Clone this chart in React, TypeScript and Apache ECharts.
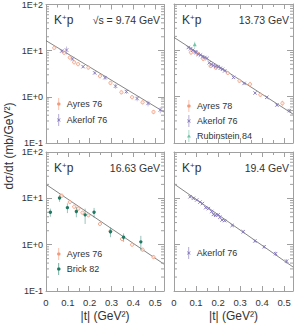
import React, { useEffect, useRef } from "react";
import * as echarts from "echarts";

const FONT = "'Liberation Sans', Arial, Helvetica, sans-serif";
const T_MAX = 0.54;
const xTickValues = [0, 0.1, 0.2, 0.3, 0.4, 0.5];
const xTickLabels = ["0", "0.1", "0.2", "0.3", "0.4", "0.5"];
const yDecadeValues = [0.1, 1, 10, 100];
const yTickLabels = ["1E-1", "1E+0", "1E+1", "1E+2"];
const yMinorValues = [0.2, 0.3, 0.4, 0.5, 0.6, 0.7, 0.8, 0.9, 2, 3, 4, 5, 6, 7, 8, 9, 20, 30, 40, 50, 60, 70, 80, 90];

const panelReaction = ["K", "K", "K", "K"];
const panelEnergies = ["√s = 9.74 GeV", "13.73 GeV", "16.63 GeV", "19.4 GeV"];
const xTitle = "|t| (GeV²)";
const yTitle = "dσ/dt (mb/GeV²)";

// Panel A: 9.74 GeV
const ayresA_t = [0.038, 0.083, 0.109, 0.129, 0.147, 0.194, 0.247, 0.295, 0.345, 0.394, 0.442, 0.492];
const ayresA_v = [11.5, 9.0, 7.1, 5.6, 5.1, 4.3, 2.8, 2.0, 1.25, 0.98, 0.76, 0.47];
const ayresA_e = [0.8, 0.6, 0.5, 0.4, 0.35, 0.3, 0.2, 0.15, 0.1, 0.08, 0.07, 0.05];
const akerlofA_t = [0.072, 0.094, 0.121, 0.17, 0.223, 0.27, 0.318, 0.368, 0.417, 0.467, 0.523];
const akerlofA_v = [9.8, 10.3, 6.6, 4.5, 3.3, 2.6, 1.7, 1.3, 0.92, 0.72, 0.52];
const akerlofA_e = [0.7, 2.0, 0.5, 0.3, 0.25, 0.3, 0.2, 0.15, 0.12, 0.1, 0.08];
const fitA_t = [0, 0.54];
const fitA_v = [16.5, 0.47];

// Panel B: 13.73 GeV
const ayresB_t = [0.077, 0.105, 0.133, 0.166, 0.19, 0.244, 0.297, 0.345, 0.392, 0.492];
const ayresB_v = [9.0, 8.6, 6.5, 4.6, 4.2, 3.25, 2.2, 1.85, 1.1, 0.72];
const ayresB_e = [1.0, 0.8, 0.5, 0.4, 0.3, 0.25, 0.2, 0.25, 0.1, 0.1];
const akerlofB_t = [0.065, 0.075, 0.085, 0.095, 0.1, 0.11, 0.12, 0.13, 0.14, 0.15, 0.16, 0.17, 0.18, 0.19, 0.2, 0.21, 0.22, 0.23, 0.27, 0.318, 0.368, 0.421, 0.467, 0.523];
const akerlofB_v = [11.5, 10.8, 10.0, 9.3, 9.0, 8.2, 7.9, 7.3, 7.0, 6.7, 5.4, 5.0, 4.7, 4.5, 4.4, 4.1, 3.9, 3.6, 2.6, 1.93, 1.2, 0.97, 0.66, 0.5];
const akerlofB_e = [0.5, 0.45, 0.4, 0.4, 0.35, 0.35, 0.3, 0.3, 0.3, 0.3, 0.25, 0.25, 0.2, 0.2, 0.2, 0.2, 0.2, 0.15, 0.12, 0.1, 0.07, 0.06, 0.05, 0.05];
const rubinB_t = [0.094];
const rubinB_v = [13.2];
const rubinB_e = [2.2];
const fitB_t = [0, 0.54];
const fitB_v = [19, 0.42];

// Panel C: 16.63 GeV
const ayresC_t = [0.072, 0.109, 0.129, 0.148, 0.167, 0.194, 0.247, 0.295, 0.348, 0.394, 0.442, 0.492];
const ayresC_v = [11.4, 8.3, 6.6, 6.0, 4.9, 4.3, 2.8, 1.95, 1.32, 1.0, 0.78, 0.54];
const ayresC_e = [0.7, 0.5, 0.4, 0.4, 0.3, 0.3, 0.2, 0.12, 0.1, 0.07, 0.06, 0.05];
const brickC_t = [0.02, 0.062, 0.098, 0.139, 0.179, 0.22, 0.295, 0.355, 0.434];
const brickC_v = [5.0, 10.2, 6.3, 5.2, 4.4, 5.0, 1.9, 1.45, 1.15];
const brickC_e = [1.0, 1.8, 1.5, 1.3, 1.6, 1.2, 0.45, 0.3, 0.4];
const fitC_t = [0, 0.54];
const fitC_v = [20, 0.38];

// Panel D: 19.4 GeV
const akerlofD_t = [0.073, 0.088, 0.103, 0.118, 0.129, 0.144, 0.156, 0.171, 0.179, 0.189, 0.2, 0.208, 0.218, 0.23, 0.264, 0.314, 0.367, 0.409, 0.461, 0.511];
const akerlofD_v = [10.8, 10, 9.2, 8.3, 7.7, 6.3, 6.0, 5.2, 4.5, 4.3, 4.4, 3.9, 3.4, 3.3, 2.6, 1.9, 1.2, 0.9, 0.64, 0.44];
const akerlofD_e = [0.6, 0.5, 0.45, 0.4, 0.4, 0.35, 0.3, 0.3, 0.25, 0.25, 0.25, 0.2, 0.2, 0.2, 0.15, 0.15, 0.1, 0.08, 0.07, 0.05];
const fitD_t = [0, 0.54];
const fitD_v = [20.5, 0.33];

const ORANGE = "#f39a7b";
const PURPLE = "#8476bb";
const TEAL = "#74c4aa";
const DARKTEAL = "#1f7a63";
const AXIS_COLOR = "#a0a0a0";
const TEXT_COLOR = "#333";

const ICON_RING = "path://M4.5,0H5.5V20H4.5Z M2,10A3,3 0 1,1 8,10A3,3 0 1,1 2,10Z";
const ICON_X = "path://M4.5,0H5.5V20H4.5Z M2,7.8L2.8,7L5,9.2L7.2,7L8,7.8L5.8,10L8,12.2L7.2,13L5,10.8L2.8,13L2,12.2L4.2,10Z";
const ICON_TRI = "path://M4.5,0H5.5V20H4.5Z M5,6.5L8.2,12.5H1.8Z";

const grids = [
  { left: 46, top: 4, width: 118, height: 139 },
  { left: 174, top: 4, width: 119, height: 139 },
  { left: 46, top: 152, width: 118, height: 139 },
  { left: 174, top: 152, width: 119, height: 139 },
];

type Kind = "ring" | "cross" | "tri" | "dot";

function markerShapes(kind: Kind, cx: number, cy: number, color: string): any[] {
  switch (kind) {
    case "ring":
      return [{ type: "circle", shape: { cx, cy, r: 1.6 }, style: { fill: "rgba(255,255,255,0.6)", stroke: color, lineWidth: 0.9 } }];
    case "cross":
      return [
        { type: "line", shape: { x1: cx - 1.7, y1: cy - 1.7, x2: cx + 1.7, y2: cy + 1.7 }, style: { stroke: color, lineWidth: 0.9 } },
        { type: "line", shape: { x1: cx - 1.7, y1: cy + 1.7, x2: cx + 1.7, y2: cy - 1.7 }, style: { stroke: color, lineWidth: 0.9 } },
      ];
    case "tri":
      return [{ type: "polygon", shape: { points: [[cx, cy - 2.2], [cx + 2, cy + 1.6], [cx - 2, cy + 1.6]] }, style: { fill: color } }];
    default:
      return [{ type: "circle", shape: { cx, cy, r: 1.7 }, style: { fill: color } }];
  }
}

const makeRender = (kind: Kind, color: string) => (params: any, api: any) => {
  const t = api.value(0);
  const v = api.value(1);
  const e = api.value(2);
  const p = api.coord([t, v]);
  const hi = api.coord([t, v + e]);
  const lo = api.coord([t, Math.max(v - e, 0.1)]);
  return {
    type: "group",
    children: [
      { type: "line", shape: { x1: p[0], y1: hi[1], x2: p[0], y2: lo[1] }, style: { stroke: color, lineWidth: 1, opacity: 0.45 } },
      ...markerShapes(kind, p[0], p[1], color),
    ],
  };
};

const minorTickRender = (params: any, api: any) => {
  const cs = params.coordSys;
  const y = api.coord([0, api.value(1)])[1];
  const st = { stroke: AXIS_COLOR, lineWidth: 1 };
  return {
    type: "group",
    children: [
      { type: "line", shape: { x1: cs.x, y1: y, x2: cs.x + 3, y2: y }, style: st },
      { type: "line", shape: { x1: cs.x + cs.width - 3, y1: y, x2: cs.x + cs.width, y2: y }, style: st },
    ],
  };
};

const datasets: { panel: number; name: string; kind: Kind; color: string; t: number[]; v: number[]; e: number[] }[] = [
  { panel: 0, name: "Ayres 76", kind: "ring", color: ORANGE, t: ayresA_t, v: ayresA_v, e: ayresA_e },
  { panel: 0, name: "Akerlof 76", kind: "cross", color: PURPLE, t: akerlofA_t, v: akerlofA_v, e: akerlofA_e },
  { panel: 1, name: "Ayres 78", kind: "ring", color: ORANGE, t: ayresB_t, v: ayresB_v, e: ayresB_e },
  { panel: 1, name: "Akerlof 76", kind: "cross", color: PURPLE, t: akerlofB_t, v: akerlofB_v, e: akerlofB_e },
  { panel: 1, name: "Rubinstein 84", kind: "tri", color: TEAL, t: rubinB_t, v: rubinB_v, e: rubinB_e },
  { panel: 2, name: "Ayres 76", kind: "ring", color: ORANGE, t: ayresC_t, v: ayresC_v, e: ayresC_e },
  { panel: 2, name: "Brick 82", kind: "dot", color: DARKTEAL, t: brickC_t, v: brickC_v, e: brickC_e },
  { panel: 3, name: "Akerlof 76", kind: "cross", color: PURPLE, t: akerlofD_t, v: akerlofD_v, e: akerlofD_e },
];

const fits = [
  { t: fitA_t, v: fitA_v },
  { t: fitB_t, v: fitB_v },
  { t: fitC_t, v: fitC_v },
  { t: fitD_t, v: fitD_v },
];

const legendDefs = [
  { left: 52, top: 93, gap: 4, items: [["Ayres 76", ICON_RING, ORANGE], ["Akerlof 76", ICON_X, PURPLE]] },
  { left: 182, top: 95, gap: 3, items: [["Ayres 78", ICON_RING, ORANGE], ["Akerlof 76", ICON_X, PURPLE], ["Rubinstein 84", ICON_TRI, TEAL]] },
  { left: 52, top: 243, gap: 3, items: [["Ayres 76", ICON_RING, ORANGE], ["Brick 82", ICON_RING, DARKTEAL]] },
  { left: 182, top: 242, gap: 3, items: [["Akerlof 76", ICON_X, PURPLE]] },
];

const xLabelFmt = (val: number) => {
  const i = xTickValues.findIndex((d) => Math.abs(d - val) < 1e-6);
  return i >= 0 ? xTickLabels[i] : "";
};
const yLabelFmt = (val: number) => {
  const i = yDecadeValues.findIndex((d) => Math.abs(Math.log10(d) - Math.log10(val)) < 1e-6);
  return i >= 0 ? yTickLabels[i] : "";
};

function buildOption(): any {
  const xAxis: any[] = [];
  const yAxis: any[] = [];
  const lineStyle = { color: AXIS_COLOR, width: 1 };
  grids.forEach((g, i) => {
    const bottomPanel = i >= 2;
    const leftPanel = i % 2 === 0;
    const xBase = {
      type: "value",
      gridIndex: i,
      min: 0,
      max: T_MAX,
      interval: 0.1,
      splitLine: { show: false },
      axisLine: { show: true, onZero: false, lineStyle },
      axisTick: { show: true, inside: true, length: 5, lineStyle },
      minorTick: { show: true, splitNumber: 2, length: 3, lineStyle },
    };
    xAxis.push({
      ...xBase,
      position: "bottom",
      axisLabel: { show: bottomPanel, showMaxLabel: false, formatter: xLabelFmt, fontSize: 9.5, color: TEXT_COLOR, fontFamily: FONT, margin: 6 },
    });
    xAxis.push({ ...xBase, position: "top", axisLabel: { show: false } });
    const yBase = {
      type: "log",
      logBase: 10,
      gridIndex: i,
      min: 0.1,
      max: 100,
      splitLine: { show: false },
      axisLine: { show: true, onZero: false, lineStyle },
      axisTick: { show: true, inside: true, length: 6, lineStyle },
    };
    yAxis.push({
      ...yBase,
      position: "left",
      axisLabel: { show: leftPanel, formatter: yLabelFmt, fontSize: 9, lineHeight: 9, color: TEXT_COLOR, fontFamily: FONT, margin: 3 },
    });
    yAxis.push({ ...yBase, position: "right", axisLabel: { show: false } });
  });

  const series: any[] = [];
  grids.forEach((g, i) => {
    series.push({
      type: "custom",
      xAxisIndex: 2 * i,
      yAxisIndex: 2 * i,
      silent: true,
      renderItem: minorTickRender,
      data: yMinorValues.map((v) => [0, v]),
      clip: false,
    });
    series.push({
      type: "line",
      xAxisIndex: 2 * i,
      yAxisIndex: 2 * i,
      data: fits[i].t.map((t, k) => [t, fits[i].v[k]]),
      symbol: "none",
      lineStyle: { color: "#666", width: 0.8 },
      silent: true,
      z: 1,
    });
  });
  datasets.forEach((d) => {
    series.push({
      type: "custom",
      name: d.name,
      xAxisIndex: 2 * d.panel,
      yAxisIndex: 2 * d.panel,
      itemStyle: { color: d.color },
      renderItem: makeRender(d.kind, d.color),
      data: d.t.map((t, k) => [t, d.v[k], d.e[k]]),
      encode: { x: 0, y: 1 },
      clip: true,
      z: 3,
    });
  });

  const legend = legendDefs.map((l) => ({
    orient: "vertical",
    left: l.left,
    top: l.top,
    itemWidth: 6,
    itemHeight: 12,
    itemGap: l.gap,
    selectedMode: false,
    textStyle: { fontSize: 9, color: TEXT_COLOR, fontFamily: FONT },
    data: l.items.map(([name, icon, color]) => ({ name, icon, itemStyle: { color } })),
  }));

  const graphic: any[] = [];
  grids.forEach((g, i) => {
    graphic.push({
      type: "text",
      x: g.left + 8,
      y: g.top + 16,
      style: {
        text: `{a|${panelReaction[i]}}{s|+}{a|p}`,
        textVerticalAlign: "middle",
        rich: {
          a: { fontSize: 12, fontFamily: FONT, fill: TEXT_COLOR, lineHeight: 14 },
          s: { fontSize: 8, fontFamily: FONT, fill: TEXT_COLOR, verticalAlign: "top", lineHeight: 14 },
        },
      },
    });
    graphic.push({
      type: "text",
      x: g.left + g.width - 4,
      y: g.top + 16,
      style: { text: panelEnergies[i], fontSize: 10.5, fontFamily: FONT, fill: TEXT_COLOR, textAlign: "right", textVerticalAlign: "middle" },
    });
    if (i >= 2) {
      graphic.push({
        type: "text",
        x: g.left + g.width / 2,
        y: 316,
        style: { text: xTitle, fontSize: 12, fontFamily: FONT, fill: TEXT_COLOR, textAlign: "center", textVerticalAlign: "middle" },
      });
    }
  });
  graphic.push({
    type: "text",
    x: 9,
    y: 146,
    rotation: Math.PI / 2,
    style: { text: yTitle, fontSize: 12, fontFamily: FONT, fill: TEXT_COLOR, textAlign: "center", textVerticalAlign: "middle" },
  });

  return {
    animation: false,
    backgroundColor: "#fff",
    grid: grids.map((g) => ({ ...g, containLabel: false })),
    xAxis,
    yAxis,
    legend,
    series,
    graphic,
  };
}

export default function App() {
  const ref = useRef<HTMLDivElement>(null);
  useEffect(() => {
    if (!ref.current) return;
    const chart = echarts.init(ref.current, null, { renderer: "svg" });
    chart.setOption(buildOption());
    return () => chart.dispose();
  }, []);
  return <div ref={ref} style={{ position: "fixed", left: 0, top: 0, width: 294, height: 325 }} />;
}
